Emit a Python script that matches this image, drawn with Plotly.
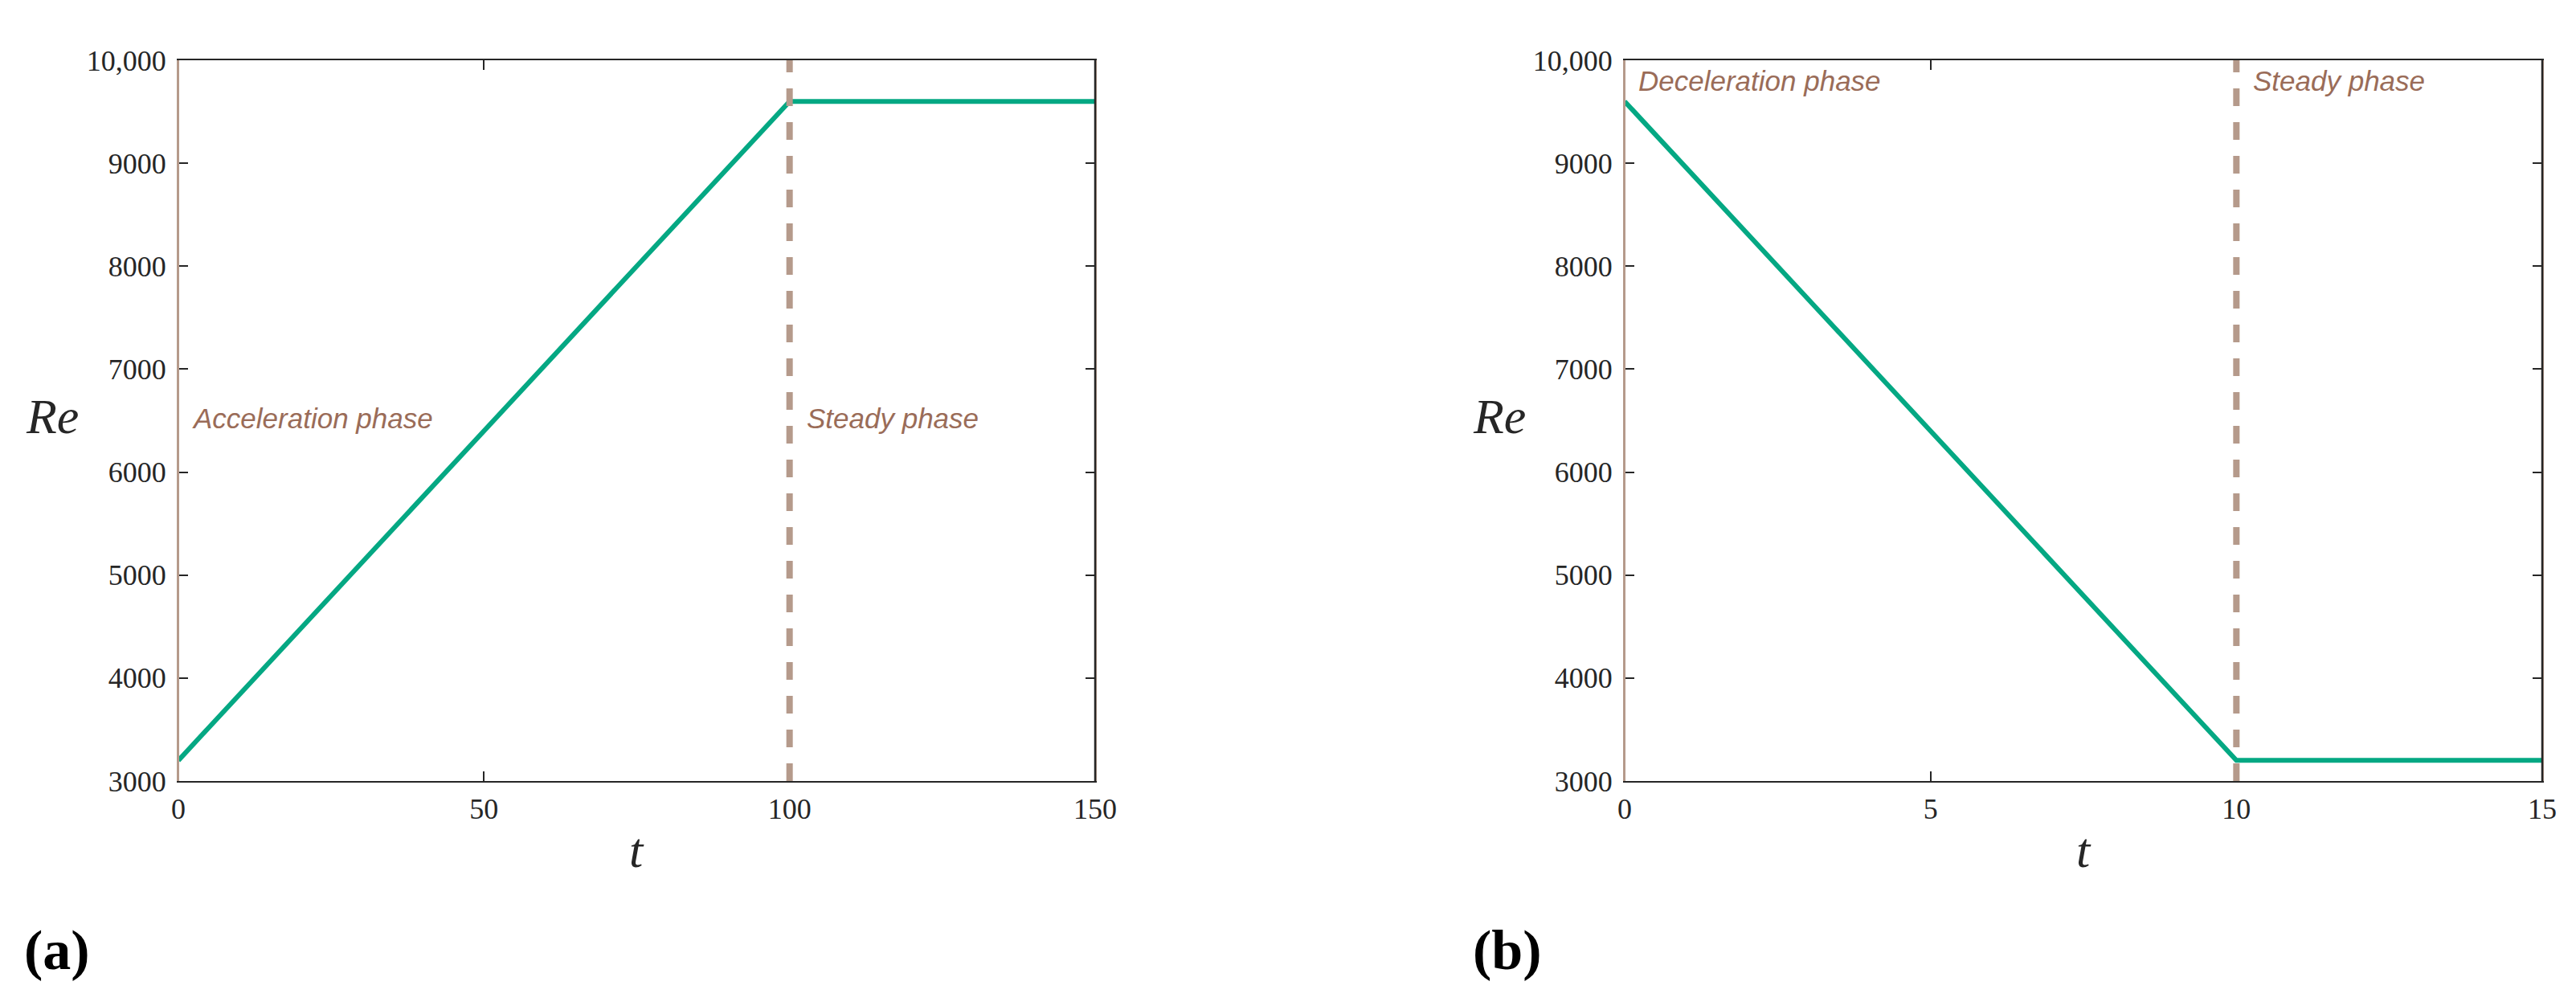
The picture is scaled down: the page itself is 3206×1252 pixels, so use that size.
import plotly.graph_objects as go

# (a) acceleration then steady, (b) deceleration then steady
t_acc = [0, 100, 150]
re_acc = [3200, 9600, 9600]
t_dec = [0, 10, 15]
re_dec = [9600, 3200, 3200]

switch_a = 100
switch_b = 10

x_ticks_a = [0, 50, 100, 150]
x_ticks_b = [0, 5, 10, 15]
y_ticks = [3000, 4000, 5000, 6000, 7000, 8000, 9000, 10000]
y_tick_text = ["3000", "4000", "5000", "6000", "7000", "8000", "9000", "10,000"]

labels_a = ["Acceleration phase", "Steady phase"]
labels_b = ["Deceleration phase", "Steady phase"]

GREEN = "#04a883"
TAN = "#b59a8b"
BROWN = "#9a6c58"
DARK = "#262626"
SERIF = "Liberation Serif, DejaVu Serif, serif"
SANS = "Liberation Sans, Arial, sans-serif"

W, H = 3206, 1252
OFF = 8  # page body margin


def px(p):
    return (p - OFF) / W


def py(p):
    return 1 - (p - OFF) / H


dom_a = [px(222), px(1363)]
dom_b = [px(2022), px(3164)]
dom_y = [py(972), py(75)]

fig = go.Figure()

panels = [
    ("x", "y", t_acc, re_acc, switch_a, x_ticks_a),
    ("x2", "y2", t_dec, re_dec, switch_b, x_ticks_b),
]
for xa, ya, tt, rr, sw, xt in panels:
    fig.add_trace(go.Scatter(
        x=tt, y=rr, mode="lines", xaxis=xa, yaxis=ya,
        line=dict(color=GREEN, width=6), showlegend=False, hoverinfo="skip",
    ))
    fig.add_trace(go.Scatter(
        x=[sw, sw], y=[y_ticks[0], y_ticks[-1]], mode="lines", xaxis=xa, yaxis=ya,
        line=dict(color=TAN, width=8, dash="22px,20px"), showlegend=False, hoverinfo="skip",
    ))

axis_common = dict(
    showgrid=False, zeroline=False, ticks="inside", ticklen=12, tickwidth=2,
    tickcolor=DARK, mirror="ticks", showline=True, linewidth=2, automargin=False,
    tickfont=dict(family=SERIF, size=36, color=DARK), layer="below traces",
)

for i, (xt, dom) in enumerate([(x_ticks_a, dom_a), (x_ticks_b, dom_b)]):
    sfx = "" if i == 0 else str(i + 1)
    fig.update_layout(**{
        "xaxis" + sfx: dict(
            axis_common, domain=dom, anchor="y" + sfx, range=[xt[0], xt[-1]],
            tickvals=xt, linecolor=DARK, ticklabelstandoff=2,
        ),
        "yaxis" + sfx: dict(
            axis_common, domain=dom_y, anchor="x" + sfx, range=[y_ticks[0], y_ticks[-1]],
            tickvals=y_ticks, ticktext=y_tick_text, linecolor=TAN, ticklabelstandoff=6,
        ),
    })

shapes = []
for sfx in ["", "2"]:
    shapes.append(dict(type="line", xref="x" + sfx + " domain", yref="y" + sfx + " domain",
                       x0=1, x1=1, y0=0, y1=1, line=dict(color=DARK, width=2.5)))
    shapes.append(dict(type="line", xref="x" + sfx + " domain", yref="y" + sfx + " domain",
                       x0=0, x1=0, y0=0, y1=1, line=dict(color=TAN, width=2)))

annotations = []
phase_font = dict(family=SANS, size=35, color=BROWN, style="italic")
annotations.append(dict(x=2, y=6520, xref="x", yref="y", text=labels_a[0], showarrow=False,
                        xanchor="left", yanchor="middle", font=phase_font))
annotations.append(dict(x=102.5, y=6520, xref="x", yref="y", text=labels_a[1], showarrow=False,
                        xanchor="left", yanchor="middle", font=phase_font))
annotations.append(dict(x=0.2, y=9800, xref="x2", yref="y2", text=labels_b[0], showarrow=False,
                        xanchor="left", yanchor="middle", font=phase_font))
annotations.append(dict(x=10.25, y=9800, xref="x2", yref="y2", text=labels_b[1], showarrow=False,
                        xanchor="left", yanchor="middle", font=phase_font))

title_font = dict(family=SERIF, size=62, color=DARK, style="italic")
for cx, lx in [(792, 65), (2593, 1866)]:
    annotations.append(dict(x=px(lx), y=py(518), xref="paper", yref="paper", text="Re",
                            showarrow=False, xanchor="center", yanchor="middle", font=title_font))
    annotations.append(dict(x=px(cx), y=py(1058), xref="paper", yref="paper", text="t",
                            showarrow=False, xanchor="center", yanchor="middle", font=title_font))

panel_font = dict(family=SERIF, size=70, color="#000000", weight="bold")
for lx, lab in [(71, "(a)"), (1876, "(b)")]:
    annotations.append(dict(x=px(lx), y=py(1182), xref="paper", yref="paper", text=lab,
                            showarrow=False, xanchor="center", yanchor="middle", font=panel_font))

fig.update_layout(
    width=W, height=H, margin=dict(l=0, r=0, t=0, b=0),
    paper_bgcolor="white", plot_bgcolor="white",
    shapes=shapes, annotations=annotations, showlegend=False,
)

fig.write_html("out.html")
